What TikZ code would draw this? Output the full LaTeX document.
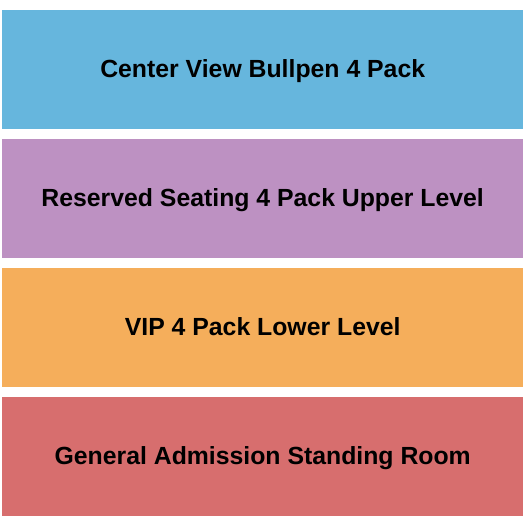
\documentclass[tikz,border=0pt]{standalone}
\usepackage{fontspec}
\setmainfont{Liberation Sans}
\definecolor{cblue}{HTML}{66B6DD}
\definecolor{cpurple}{HTML}{BD91C2}
\definecolor{corange}{HTML}{F5AE5B}
\definecolor{cred}{HTML}{D76E6E}
\begin{document}
\begin{tikzpicture}[x=1pt,y=-1pt,
  sec/.style={fill=#1,draw=none,minimum width=521pt,minimum height=118.5pt,inner sep=0pt,anchor=north west},
  lab/.style={font=\fontsize{24.8}{28}\selectfont\bfseries,text=black,inner sep=0pt}]
\useasboundingbox (0,0) rectangle (525,525);
\fill[white] (0,0) rectangle (525,525);
\node[sec=cblue] (a) at (2,10) {};
\node[sec=cpurple] (b) at (2,139) {};
\node[sec=corange] (c) at (2,268) {};
\node[sec=cred] (d) at (2,397) {};
\node[lab,anchor=base] (ta) at ([yshift=-8.5pt]a.center) {Center View Bullpen 4 Pack};
\node[lab,anchor=base] (tb) at ([yshift=-8.5pt]b.center) {Reserved Seating 4 Pack Upper Level};
\node[lab,anchor=base] (tc) at ([yshift=-8.5pt]c.center) {VIP 4 Pack Lower Level};
\node[lab,anchor=base] (td) at ([yshift=-8.5pt]d.center) {General Admission Standing Room};
\end{tikzpicture}
\end{document}
